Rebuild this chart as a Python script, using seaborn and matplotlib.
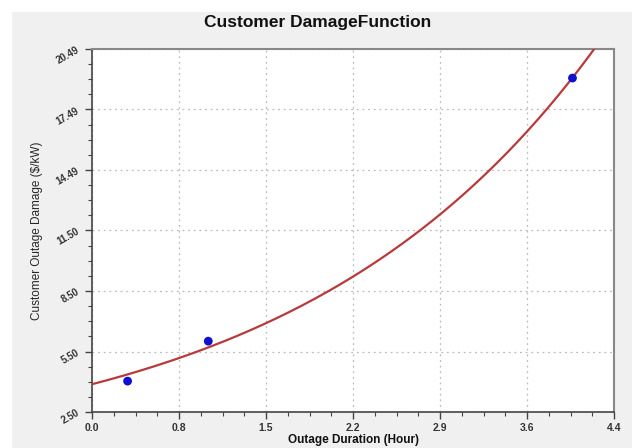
import numpy as np
import pandas as pd
import seaborn as sns
import matplotlib.pyplot as plt
from matplotlib.patches import Rectangle
from matplotlib.ticker import AutoMinorLocator

duration = [0.30, 0.98, 4.05]
damage = [4.03, 6.01, 19.05]

x_labels = ['0.0', '0.8', '1.5', '2.2', '2.9', '3.6', '4.4']
y_labels = ['2.50', '5.50', '8.50', '11.50', '14.49', '17.49', '20.49']

df = pd.DataFrame({'Duration': duration, 'Damage': damage})

# exponential damage function fitted to the points (log fit, then Gauss-Newton)
xs = np.array(duration)
ys = np.array(damage)
b, la = np.polyfit(xs, np.log(ys), 1)
a = np.exp(la)
for i in range(50):
    f = a * np.exp(b * xs)
    J = np.column_stack([np.exp(b * xs), a * xs * np.exp(b * xs)])
    step = np.linalg.lstsq(J, ys - f, rcond=None)[0]
    a, b = a + step[0], b + step[1]
grid = np.linspace(0, 4.4, 200)
fit = pd.DataFrame({'Duration': grid, 'Damage': a * np.exp(b * grid)})

sns.set_style('white')
plt.rcParams['font.family'] = ['Liberation Sans', 'DejaVu Sans']

fig = plt.figure(figsize=(6.32, 4.48), dpi=100, facecolor='white')
fig.patches.append(Rectangle((12 / 632, 0), 1, 1 - 12 / 448, transform=fig.transFigure,
                             facecolor='#f0f0f0', edgecolor='none', zorder=-1))
ax = fig.add_axes([92 / 632, 1 - 412 / 448, 522 / 632, 363 / 448])
ax.set_facecolor('white')

sns.lineplot(data=fit, x='Duration', y='Damage', ax=ax, color='#b83a3a', linewidth=1.6, zorder=3)
sns.scatterplot(data=df, x='Duration', y='Damage', ax=ax, color='#1010d0', s=40,
                edgecolor='none', zorder=4)

ax.set_xlim(0, 4.4)
ax.set_ylim(2.5, 20.49)
ax.set_xticks(np.linspace(0, 4.4, len(x_labels)))
ax.set_xticklabels(x_labels, fontsize=7.5, fontweight='bold', color='#333333')
ax.set_yticks(np.linspace(2.5, 20.49, len(y_labels)))
ax.set_yticklabels(y_labels, fontsize=7, fontweight='bold', color='#333333', rotation=30)
ax.xaxis.set_minor_locator(AutoMinorLocator(4))
ax.yaxis.set_minor_locator(AutoMinorLocator(4))
ax.tick_params(which='major', direction='out', length=5, width=1, color='#444444',
               bottom=True, left=True, pad=3)
ax.tick_params(which='minor', direction='out', length=3, width=0.8, color='#444444',
               bottom=True, left=True)
ax.grid(True, which='major', linestyle=(0, (1.5, 3)), color='#bbbbbb', linewidth=0.9)

for side in ['left', 'bottom']:
    ax.spines[side].set_color('#444444')
    ax.spines[side].set_linewidth(1.2)
for side in ['top', 'right']:
    ax.spines[side].set_color('#888888')
    ax.spines[side].set_linewidth(1.5)

ax.set_xlabel('')
fig.text(353 / 632, 1 - 440 / 448, 'Outage Duration (Hour)', ha='center', va='center',
         fontsize=8.5, fontweight='bold', color='#111111')
ax.set_ylabel('Customer Outage Damage ($/kW)', fontsize=8.5, labelpad=8)
fig.text(318 / 632, 1 - 22 / 448, 'Customer DamageFunction', ha='center', va='center',
         fontsize=12.5, fontweight='bold', color='#111111')

fig.savefig('out.png', dpi=100, facecolor=fig.get_facecolor())
